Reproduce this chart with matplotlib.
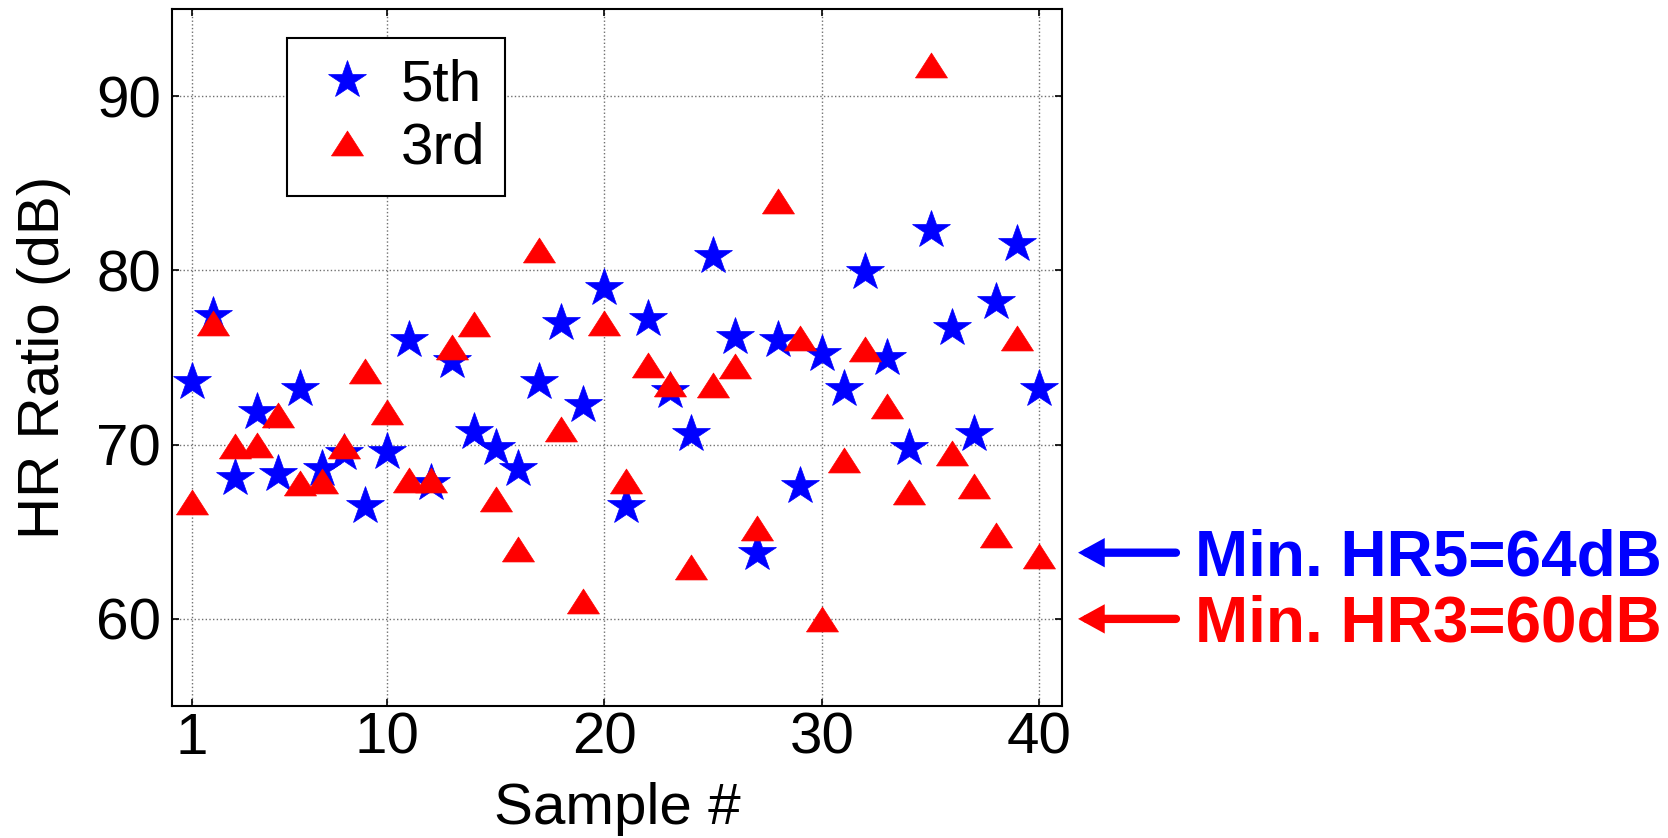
import matplotlib
matplotlib.use("Agg")
import matplotlib.pyplot as plt
import matplotlib.transforms as mtransforms
import numpy as np

plt.rcParams['font.family'] = ['Liberation Sans', 'DejaVu Sans']

samples = list(range(1, 41))
hr_5th = [73.6, 77.4, 68.1, 71.9, 68.3, 73.2, 68.6, 69.5, 66.5, 69.6,
          76.0, 67.8, 74.8, 70.7, 69.8, 68.6, 73.6, 77.0, 72.3, 79.0,
          66.5, 77.2, 73.1, 70.6, 80.8, 76.2, 63.8, 76.0, 67.6, 75.2,
          73.2, 79.9, 75.0, 69.8, 82.3, 76.7, 70.6, 78.2, 81.5, 73.2]
hr_3rd = [66.7, 77.0, 69.9, 70.0, 71.7, 67.8, 67.9, 69.9, 74.2, 71.9,
          68.0, 68.0, 75.6, 76.9, 66.9, 64.0, 81.2, 70.9, 61.0, 77.0,
          67.9, 74.6, 73.5, 63.0, 73.4, 74.5, 65.2, 84.0, 76.1, 60.0,
          69.1, 75.5, 72.2, 67.3, 91.8, 69.5, 67.6, 64.8, 76.1, 63.6]
series_labels = ['5th', '3rd']
x_ticks = [1, 10, 20, 30, 40]
y_ticks = [60, 70, 80, 90]
min_labels = ['Min. HR5=64dB', 'Min. HR3=60dB']

fig = plt.figure(figsize=(16.68, 8.38), dpi=100)
ax = fig.add_axes([0.1031, 0.1575, 0.5336, 0.8317])

tri = [(-1.0, -0.78), (1.0, -0.78), (0.0, 0.78), (-1.0, -0.78)]
ax.plot(samples, hr_5th, linestyle='none', marker='*', markersize=29,
        color='#0000ff', markeredgewidth=0.5, label=series_labels[0], zorder=3)
ax.plot(samples, hr_3rd, linestyle='none', marker=tri, markersize=23,
        color='#ff0000', markeredgewidth=0.5, label=series_labels[1], zorder=4)

ax.set_xlim(0.1, 41.05)
ax.set_ylim(55, 95)
ax.set_xticks(x_ticks)
ax.set_yticks(y_ticks)
ax.grid(True, color='#707070', linestyle=':', linewidth=1.0)
ax.set_axisbelow(True)
ax.tick_params(direction='in', top=True, right=True, labelsize=42,
               length=5, width=1.2, colors='black')
ax.tick_params(axis='x', pad=4)
ax.tick_params(axis='y', pad=8)
for s in ax.spines.values():
    s.set_linewidth(1.5)
    s.set_color('black')

ax.set_xlabel('Sample #', fontsize=42, labelpad=12)
ax.set_ylabel('HR Ratio (dB)', fontsize=42, labelpad=18)

leg = ax.legend(loc='upper left', bbox_to_anchor=(0.129, 0.958), borderaxespad=0,
                fontsize=42, frameon=True, fancybox=False, edgecolor='black',
                framealpha=1, labelspacing=0.15, handletextpad=0.25,
                borderpad=0.35, handlelength=1.35)
leg.get_frame().set_linewidth(1.5)

trans = mtransforms.blended_transform_factory(ax.transAxes, ax.transData)
for vals, lab, col in [(hr_5th, min_labels[0], '#0000ff'), (hr_3rd, min_labels[1], '#ff0000')]:
    yv = min(vals)
    ax.annotate('', xy=(1.018, yv), xycoords=trans, xytext=(1.128, yv), textcoords=trans,
                arrowprops=dict(arrowstyle='-|>,head_length=1.0,head_width=0.55',
                                lw=6, color=col, shrinkA=0, shrinkB=0,
                                capstyle='round', joinstyle='miter'),
                annotation_clip=False)
    ax.annotate(lab, xy=(1.149, yv), xycoords=trans, xytext=(0, -16.5),
                textcoords='offset points', ha='left', va='baseline',
                fontsize=46, fontweight='bold', color=col, annotation_clip=False)

fig.savefig('out.png', dpi=100)
